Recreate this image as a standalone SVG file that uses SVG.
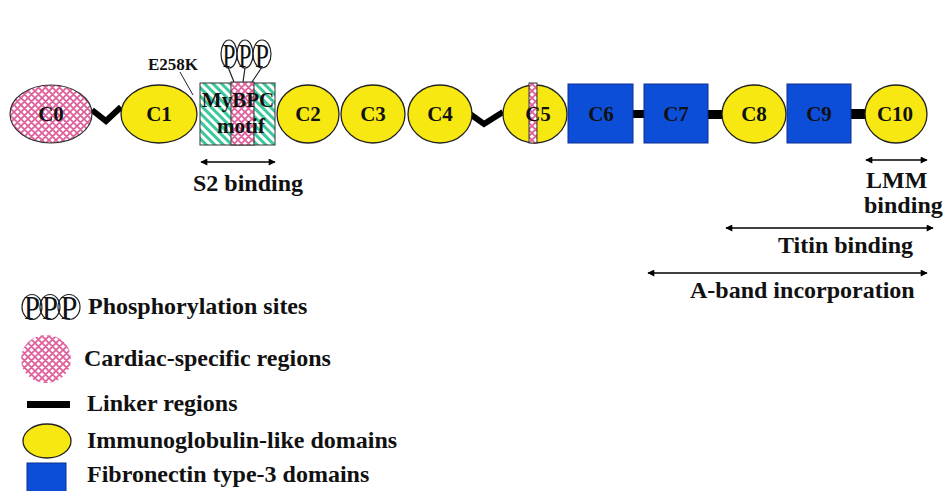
<svg xmlns="http://www.w3.org/2000/svg" width="944" height="491" viewBox="0 0 944 491">
<defs>
<pattern id="cross" patternUnits="userSpaceOnUse" width="7" height="7">
<rect width="7" height="7" fill="#ffffff"/>
<path d="M0,0 L7,7 M7,0 L0,7 M-1,6 L1,8 M6,-1 L8,1" stroke="#e0609c" stroke-width="1.8"/>
</pattern>
<pattern id="stripe" patternUnits="userSpaceOnUse" width="6" height="6" patternTransform="rotate(-45)">
<rect width="6" height="6" fill="#ffffff"/>
<rect width="3" height="6" fill="#3cc89c"/>
</pattern>
<marker id="ah" viewBox="0 0 10 10" refX="9" refY="5" markerWidth="9" markerHeight="7" markerUnits="userSpaceOnUse" orient="auto-start-reverse">
<path d="M0,0 L10,5 L0,10 z" fill="#000"/>
</marker>
</defs>
<style>
.t{font-family:'Liberation Serif','Times New Roman',serif;font-weight:bold;fill:#111;}
.lab{font-size:21px;text-anchor:middle;}
.big{font-size:24px;}
.ig{fill:#f8e812;stroke:#222;stroke-width:1.3;}
.fn{fill:#0d4ed8;stroke:#0a2f90;stroke-width:1;}
.ck{fill:url(#cross);stroke:#333;stroke-width:1.2;}
.lk{fill:none;stroke:#000;stroke-width:6;stroke-linejoin:miter;}
.bar{fill:#000;}
.arr{stroke:#000;stroke-width:1.5;fill:none;marker-start:url(#ah);marker-end:url(#ah);}
.ph{fill:none;stroke:#222;stroke-width:1.2;}
.pt{font-family:'Liberation Serif','Times New Roman',serif;font-size:34px;fill:#111;text-anchor:middle;}
</style>

<g id="connectors">
<path class="lk" d="M92,110 L106,121 L121,107"/>
<path class="lk" d="M470,114 L484,124 L503,112"/>
<rect class="bar" x="633" y="110" width="12" height="8"/>
<rect class="bar" x="708" y="110" width="15" height="9"/>
<rect class="bar" x="851" y="109" width="15" height="10"/>
</g>

<g id="C0"><ellipse class="ck" cx="51" cy="114" rx="41" ry="29"/><text class="t lab" x="51" y="121">C0</text></g>
<g id="C1"><ellipse class="ig" cx="159" cy="114" rx="38" ry="29"/><text class="t lab" x="159" y="121">C1</text></g>

<g id="E258K">
<text class="t" x="148" y="70" font-size="17">E258K</text>
<line x1="180" y1="72" x2="193" y2="95" stroke="#222" stroke-width="1"/>
</g>

<g id="motif">
<rect x="200" y="83" width="75" height="62" fill="url(#stripe)" stroke="#333" stroke-width="1"/>
<rect x="231" y="82" width="23" height="63" fill="url(#cross)" stroke="#333" stroke-width="1"/>
<text class="t lab" x="238" y="107">MyBPC</text>
<text class="t lab" x="241" y="133">motif</text>
</g>

<g id="phospho">
<path class="ph" d="M228,67 L234,82 M245,68 L243,82 M262,67 L252,82"/>
<ellipse class="ph" cx="229" cy="54" rx="8" ry="14"/>
<ellipse class="ph" cx="245" cy="54" rx="8" ry="14"/>
<ellipse class="ph" cx="262" cy="54" rx="9" ry="14"/>
<text class="pt" x="229" y="67" textLength="13" lengthAdjust="spacingAndGlyphs">P</text>
<text class="pt" x="245" y="67" textLength="13" lengthAdjust="spacingAndGlyphs">P</text>
<text class="pt" x="262" y="67" textLength="14" lengthAdjust="spacingAndGlyphs">P</text>
</g>

<g id="C2"><ellipse class="ig" cx="308" cy="114" rx="31" ry="29"/><text class="t lab" x="308" y="121">C2</text></g>
<g id="C3"><ellipse class="ig" cx="373" cy="114" rx="32" ry="29"/><text class="t lab" x="373" y="121">C3</text></g>
<g id="C4"><ellipse class="ig" cx="440" cy="114" rx="32" ry="29"/><text class="t lab" x="440" y="121">C4</text></g>
<g id="C5"><ellipse class="ig" cx="535" cy="114" rx="32" ry="29"/><rect x="529" y="83" width="8" height="60" fill="url(#cross)" stroke="#333" stroke-width="1"/><text class="t lab" x="538" y="121">C5</text></g>
<g id="C6"><rect class="fn" x="568" y="84" width="65" height="59"/><text class="t lab" x="601" y="121">C6</text></g>
<g id="C7"><rect class="fn" x="644" y="84" width="64" height="59"/><text class="t lab" x="676" y="121">C7</text></g>
<g id="C8"><ellipse class="ig" cx="754" cy="114" rx="32" ry="29"/><text class="t lab" x="754" y="121">C8</text></g>
<g id="C9"><rect class="fn" x="787" y="84" width="64" height="59"/><text class="t lab" x="819" y="121">C9</text></g>
<g id="C10"><ellipse class="ig" cx="896" cy="114" rx="31" ry="29"/><text class="t lab" x="895" y="121">C10</text></g>

<g id="S2binding">
<line class="arr" x1="201" y1="162" x2="275" y2="162"/>
<text class="t big" x="193" y="191">S2 binding</text>
</g>
<g id="LMMbinding">
<line class="arr" x1="866" y1="160" x2="927" y2="160"/>
<text class="t big" x="866" y="188">LMM</text>
<text class="t big" x="864" y="213">binding</text>
</g>
<g id="TitinBinding">
<line class="arr" x1="726" y1="228" x2="933" y2="228"/>
<text class="t big" x="778" y="253">Titin binding</text>
</g>
<g id="Aband">
<line class="arr" x1="648" y1="273" x2="927" y2="273"/>
<text class="t big" x="690" y="298">A-band incorporation</text>
</g>

<g id="legend">
<ellipse class="ph" cx="32" cy="307" rx="10" ry="12.5"/>
<ellipse class="ph" cx="50" cy="307" rx="10" ry="12.5"/>
<ellipse class="ph" cx="69" cy="307" rx="11" ry="12.5"/>
<text class="pt" x="32" y="319" font-size="32" textLength="16" lengthAdjust="spacingAndGlyphs">P</text>
<text class="pt" x="50" y="319" font-size="32" textLength="16" lengthAdjust="spacingAndGlyphs">P</text>
<text class="pt" x="69" y="319" font-size="32" textLength="17" lengthAdjust="spacingAndGlyphs">P</text>
<text class="t big" x="88" y="314">Phosphorylation sites</text>

<ellipse cx="46" cy="359" rx="25" ry="24" fill="url(#cross)"/>
<text class="t big" x="84" y="366">Cardiac-specific regions</text>

<rect x="27" y="401" width="43" height="7" fill="#000"/>
<text class="t big" x="87" y="411">Linker regions</text>

<ellipse class="ig" cx="47" cy="441" rx="24" ry="17"/>
<text class="t big" x="87" y="448">Immunoglobulin-like domains</text>

<rect class="fn" x="27" y="463" width="39" height="40"/>
<text class="t big" x="87" y="482">Fibronectin type-3 domains</text>
</g>
</svg>
